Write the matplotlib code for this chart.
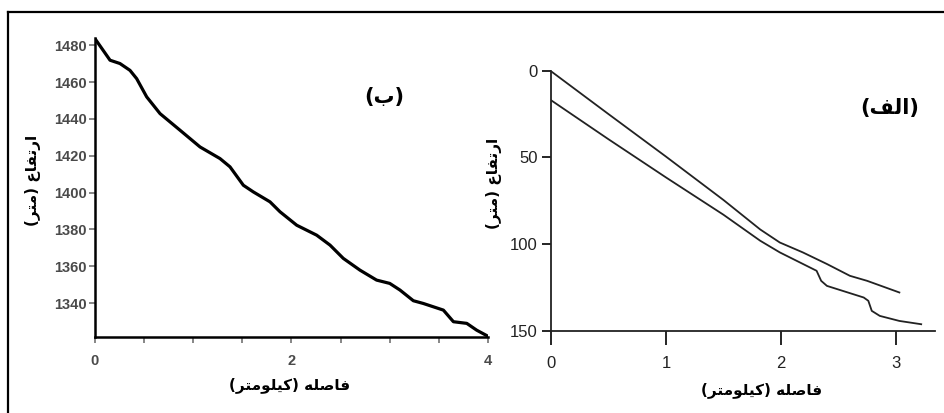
import numpy as np
import matplotlib
matplotlib.use("Agg")
import matplotlib.pyplot as plt
from matplotlib.lines import Line2D

# panel (ب): elevation profile, km vs m
dist_b = [0.0, 0.153, 0.254, 0.356, 0.424, 0.526, 0.662, 0.865, 1.069, 1.272, 1.374,
          1.51, 1.611, 1.781, 1.883, 2.053, 2.256, 2.392, 2.527, 2.697, 2.866, 3.0,
          3.104, 3.24, 3.342, 3.546, 3.648, 3.784, 3.885, 4.0]
elev_b = [1483.6, 1471.9, 1470.1, 1466.4, 1461.9, 1452.0, 1442.9, 1433.9, 1424.8,
          1418.5, 1414.0, 1404.0, 1400.4, 1395.0, 1389.6, 1382.3, 1376.9, 1371.5,
          1364.3, 1357.9, 1352.5, 1350.7, 1347.1, 1341.3, 1339.8, 1336.2, 1329.9,
          1329.0, 1325.3, 1322.0]

# panel (الف): two depth profiles
dist_a1 = [0.0, 0.5, 1.0, 1.5, 1.82, 1.99, 2.19, 2.40, 2.60, 2.75, 3.03]
depth_a1 = [0.3, 25.0, 49.5, 74.5, 91.5, 99.0, 104.7, 111.4, 118.2, 121.1, 127.8]
dist_a2 = [0.0, 0.5, 1.0, 1.5, 1.82, 1.99, 2.31, 2.35, 2.40, 2.72, 2.76, 2.79,
           2.86, 3.03, 3.22]
depth_a2 = [17.0, 39.5, 61.5, 83.0, 98.0, 104.7, 115.3, 121.1, 124.0, 130.7, 132.6,
            138.4, 141.3, 144.2, 146.1]

yticks_b = [1340, 1360, 1380, 1400, 1420, 1440, 1460, 1480]
xticks_b = [0, 2, 4]
yticks_a = [0, 50, 100, 150]
xticks_a = [0, 1, 2, 3]

# Persian labels in presentation forms, visual order (matplotlib has no RTL shaping)
ylab = "(\uFEAE\uFE98\uFEE3) \uFEC9\uFE8E\uFED4\uFE97\uFEAD\uFE8D"
xlab = "(\uFEAE\uFE98\uFEE3\uFEEE\uFEE0\uFBFF\uFB90) \uFEEA\uFEE0\uFEBB\uFE8E\uFED3"
tag_b = "(\uFE8F)"
tag_a = "(\uFED2\uFEDF\uFE8D)"

W, H = 945, 413
fig = plt.figure(figsize=(W / 100, H / 100), dpi=100)
fig.patch.set_facecolor("white")

def fx(px):
    return px / W

def fy(py):
    return 1 - py / H

# left panel
ax1 = fig.add_axes([fx(95), fy(337), fx(488) - fx(95), fy(38.3) - fy(337)])
ax1.plot(dist_b, elev_b, color="black", linewidth=2.3, solid_joinstyle="round")
ax1.set_xlim(0, 4)
ax1.set_ylim(1321.6, 1483.8)
ax1.set_yticks(yticks_b)
ax1.set_xticks(xticks_b)
ax1.set_xticks(np.arange(0, 4.01, 0.5), minor=True)
for s in ["top", "right"]:
    ax1.spines[s].set_visible(False)
for s in ["left", "bottom"]:
    ax1.spines[s].set_linewidth(1.8)
ax1.tick_params(axis="both", which="both", direction="out", length=4, width=1.1,
                colors="#666666", labelcolor="#4a4a4a")
ax1.tick_params(axis="x", pad=8)
ax1.tick_params(axis="y", pad=2)
for lab in ax1.get_xticklabels() + ax1.get_yticklabels():
    lab.set_family(["Liberation Sans", "DejaVu Sans"])
    lab.set_fontsize(10.5)
    lab.set_fontweight("bold")

# right panel
ax2 = fig.add_axes([fx(551), fy(331), fx(935) - fx(551), fy(70.7) - fy(331)])
ax2.plot(dist_a1, depth_a1, color="#222222", linewidth=1.3)
ax2.plot(dist_a2, depth_a2, color="#222222", linewidth=1.3)
ax2.set_xlim(0, 3.34)
ax2.set_ylim(150, 0)
ax2.set_yticks(yticks_a)
ax2.set_xticks(xticks_a)
for s in ["top", "right"]:
    ax2.spines[s].set_visible(False)
for s in ["left", "bottom"]:
    ax2.spines[s].set_linewidth(1.3)
    ax2.spines[s].set_color("#222222")
ax2.tick_params(axis="x", direction="out", length=10, width=1.2, pad=8, labelsize=12)
ax2.tick_params(axis="y", direction="out", length=6.5, width=1.2, pad=3, labelsize=12)
for lab in ax2.get_xticklabels() + ax2.get_yticklabels():
    lab.set_family(["Liberation Sans", "DejaVu Sans"])
    lab.set_color("#222222")

# axis titles and panel tags
fig.text(fx(33), fy(180), ylab, rotation=90, ha="center", va="center",
         fontsize=11, fontweight="bold", family="DejaVu Sans")
fig.text(fx(290), fy(385), xlab, ha="center", va="center",
         fontsize=11, fontweight="bold", family="DejaVu Sans")
fig.text(fx(494), fy(183), ylab, rotation=90, ha="center", va="center",
         fontsize=11, fontweight="bold", family="DejaVu Sans")
fig.text(fx(762), fy(390), xlab, ha="center", va="center",
         fontsize=11, fontweight="bold", family="DejaVu Sans")
fig.text(fx(384), fy(97), tag_b, ha="center", va="center",
         fontsize=15, fontweight="bold", family="DejaVu Sans")
fig.text(fx(890), fy(108), tag_a, ha="center", va="center",
         fontsize=15, fontweight="bold", family="DejaVu Sans")

# outer frame (left and top edges of the scanned figure box)
fig.add_artist(Line2D([fx(8.5), fx(8.5)], [0, fy(11.5)], color="black", linewidth=1.6))
fig.add_artist(Line2D([fx(8.5), 1], [fy(11.5), fy(11.5)], color="black", linewidth=1.6))

fig.savefig("out.png", dpi=100, facecolor="white")
